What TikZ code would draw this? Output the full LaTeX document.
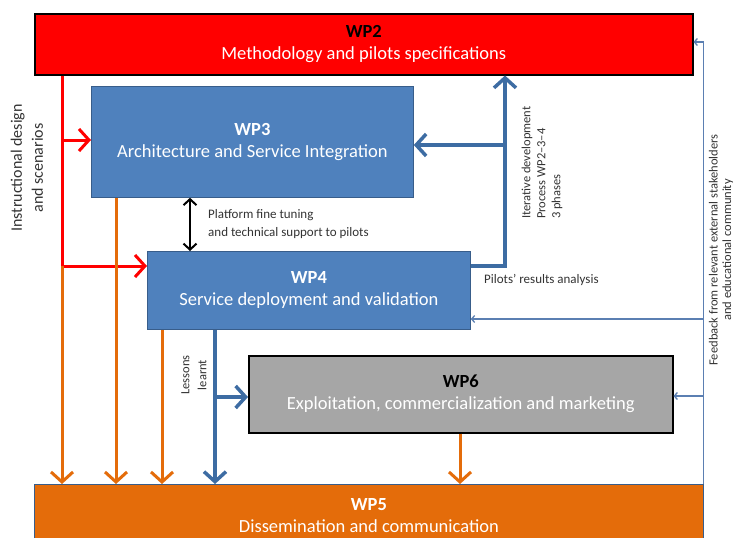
\documentclass[tikz,border=0pt]{standalone}
\usepackage{fontspec}
\setmainfont{Carlito}
\usetikzlibrary{arrows.meta}
\definecolor{wpred}{HTML}{FF0000}
\definecolor{wpblue}{HTML}{4F81BD}
\definecolor{wpblueedge}{HTML}{385D8A}
\definecolor{wpblueline}{HTML}{3D6CA3}
\definecolor{wporange}{HTML}{E46C0A}
\definecolor{wpgray}{HTML}{A6A6A6}
\definecolor{thinblue}{HTML}{5B7FB2}
\begin{document}
\begin{tikzpicture}[x=1pt,y=-1pt,
  box/.style={rectangle, inner sep=0pt, align=center, anchor=north west,
    font=\fontsize{18.5}{22}\selectfont, text=white},
  bigtip/.style={-{Straight Barb[length=10pt,width=22pt]}},
  redline/.style={draw=wpred, line width=3pt},
  orangearrow/.style={draw=wporange, line width=3pt, bigtip},
  bluearrow/.style={draw=wpblueline, line width=3.5pt, bigtip},
  thinarrow/.style={draw=thinblue, line width=1.3pt, -{Straight Barb[length=3pt,width=7pt]}},
  dbl/.style={draw=black, line width=2pt, {Straight Barb[length=6pt,width=13pt]}-{Straight Barb[length=6pt,width=13pt]}},
  lbl/.style={inner sep=0pt, text=black!80, font=\fontsize{13}{18}\selectfont}
]
\useasboundingbox (0,0) rectangle (737,538);
\fill[white] (0,0) rectangle (737,538);

% reference coordinates
\coordinate (xr) at (62,0);
\coordinate (xo2) at (116,0);
\coordinate (xo3) at (162,0);
\coordinate (xdb) at (190,0);
\coordinate (xbl) at (215,0);
\coordinate (xo6) at (460,0);
\coordinate (xit) at (505,0);
\coordinate (xfb) at (703,0);
\coordinate (y3) at (0,140);
\coordinate (y4) at (0,266);
\coordinate (yit3) at (0,145);
\coordinate (yfb2) at (0,42);
\coordinate (yfb4) at (0,319);
\coordinate (yfb6) at (0,396);
\coordinate (yl6) at (0,397);

% boxes
\node[box, draw=black, line width=1.5pt, fill=wpred, minimum width=658pt, minimum height=61pt] (wp2) at (34,13)
  {\textcolor{black}{\textbf{WP2}}\\Methodology and pilots specifications};
\node[box, draw=wpblueedge, line width=0.8pt, fill=wpblue, minimum width=322pt, minimum height=111pt] (wp3) at (91,86)
  {\textbf{WP3}\\Architecture and Service Integration};
\node[box, draw=wpblueedge, line width=0.8pt, fill=wpblue, minimum width=323pt, minimum height=78pt] (wp4) at (147,251)
  {\textbf{WP4}\\Service deployment and validation};
\node[box, draw=black, line width=1.5pt, fill=wpgray, minimum width=424pt, minimum height=77pt] (wp6) at (248,355)
  {\textcolor{black}{\textbf{WP6}}\\Exploitation, commercialization and marketing};
\node[box, draw=wpblueedge, line width=0.8pt, fill=wporange, minimum width=669pt, minimum height=62pt] (wp5) at (34,484)
  {\textbf{WP5}\\Dissemination and communication};

% red connectors
\draw[redline, bigtip] (wp2.south -| xr) |- (y4 -| wp4.west);
\draw[redline, bigtip] (y3 -| xr) -- (y3 -| wp3.west);

% orange connectors
\draw[orangearrow] (y4 -| xr) -- (wp5.north -| xr);
\draw[orangearrow] (wp3.south -| xo2) -- (wp5.north -| xo2);
\draw[orangearrow] (wp4.south -| xo3) -- (wp5.north -| xo3);
\draw[orangearrow] (wp6.south -| xo6) -- (wp5.north -| xo6);

% blue lessons learnt
\draw[bluearrow] (wp4.south -| xbl) -- (wp5.north -| xbl);
\draw[bluearrow] (yl6 -| xbl) -- (yl6 -| wp6.west);

% double arrow
\draw[dbl] (wp3.south -| xdb) -- (wp4.north -| xdb);

% iterative development
\draw[bluearrow] (y4 -| wp4.east) -| (wp2.south -| xit);
\draw[bluearrow] (yit3 -| xit) -- (yit3 -| wp3.east);

% feedback
\draw[thinarrow] (wp5.north east) |- (yfb2 -| wp2.east);
\draw[thinarrow] (yfb4 -| xfb) -- (yfb4 -| wp4.east);
\draw[thinarrow] (yfb6 -| xfb) -- (yfb6 -| wp6.east);

% labels
\node[lbl, anchor=west, align=left] (lplat) at (208,224)
  {Platform fine tuning\\and technical support to pilots};
\node[lbl, anchor=west] (lpil) at (484,280) {Pilots’ results analysis};
\node[lbl, rotate=90, anchor=west, align=left, font=\fontsize{12.5}{15}\selectfont] (lit) at (542,219)
  {Iterative development\\Process WP2–3–4\\3 phases};
\node[lbl, rotate=90, align=center, font=\fontsize{12.5}{13.5}\selectfont] (lfb) at (721,250)
  {Feedback from relevant external stakeholders\\and educational community};
\node[lbl, rotate=90, align=center, font=\fontsize{16}{21}\selectfont] (lins) at (27,168)
  {Instructional design\\and scenarios};
\node[lbl, rotate=90, align=center, font=\fontsize{12.5}{17}\selectfont] (lles) at (194,375)
  {Lessons\\learnt};
\end{tikzpicture}
\end{document}
